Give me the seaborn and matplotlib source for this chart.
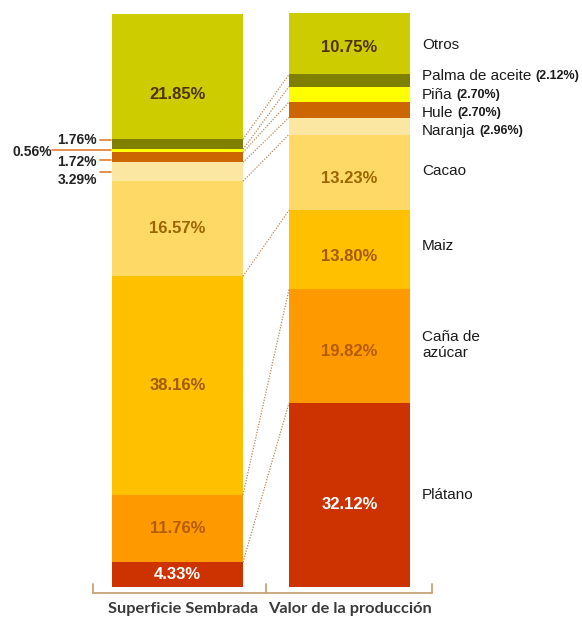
import matplotlib
matplotlib.use('Agg')
import matplotlib.pyplot as plt
import seaborn as sns
import numpy as np

sns.set_theme(style='white')
plt.rcParams['font.family'] = ['Liberation Sans', 'DejaVu Sans']

# ---------------- data ----------------
categories = ['Plátano', 'Caña de azúcar', 'Maiz', 'Cacao', 'Naranja',
              'Hule', 'Piña', 'Palma de aceite', 'Otros']
name_labels = ['Plátano', 'Caña de\nazúcar', 'Maiz', 'Cacao', 'Naranja',
               'Hule', 'Piña', 'Palma de aceite', 'Otros']
superficie = [4.33, 11.76, 38.16, 16.57, 3.29, 1.72, 0.56, 1.76, 21.85]
valor = [32.12, 19.82, 13.80, 13.23, 2.96, 2.70, 2.70, 2.12, 10.75]
bar_names = ['Superficie Sembrada', 'Valor de la producción']

# ---------------- style ----------------
colors = ['#CC3300', '#FF9900', '#FFC000', '#FFD966', '#FCE7A2',
          '#CC6600', '#FFFF00', '#7F7F00', '#CCCC00']
text_colors = ['white', '#B35C00', '#A45A00', '#9A6500', None, None, None, None, '#4D3300']
inside_left = [True, True, True, True, False, False, False, False, True]
inside_right = [True, True, True, True, False, False, False, False, True]

W, H = 582, 618
PX_PER = 5.73
BASE = 587


def py(p):
    """pixel row -> data value"""
    return (BASE - p) / PX_PER


fig = plt.figure(figsize=(W / 100, H / 100), dpi=100)
ax = fig.add_axes([0, 0, 1, 1])
ax.set_xlim(0, W)
ax.set_ylim(py(H), py(0))
ax.axis('off')

lx, lw = 177.5, 131
rx, rw = 349.5, 121

sup = np.array(superficie)
val = np.array(valor)
sup_bot = np.concatenate([[0], np.cumsum(sup)[:-1]])
val_bot = np.concatenate([[0], np.cumsum(val)[:-1]])

ax.bar([lx] * len(sup), sup, bottom=sup_bot, width=lw, color=colors, linewidth=0)
ax.bar([rx] * len(val), val, bottom=val_bot, width=rw, color=colors, linewidth=0)

# dotted connectors between boundaries
for i in range(1, len(sup)):
    ax.plot([lx + lw / 2, rx - rw / 2], [sup_bot[i], val_bot[i]],
            ls=(0, (1, 1.2)), color='#B8895A', lw=0.9)

# in-bar labels
left_off = [0, 0, 0, 0, 0, 0, 0, 0, -3.2]
right_off = [-1.7, -1.0, -1.1, -1.0, 0, 0, 0, 0, -0.6]
for i, c in enumerate(categories):
    if inside_left[i]:
        ax.text(lx, sup_bot[i] + sup[i] / 2 + left_off[i], f'{sup[i]:.2f}%',
                ha='center', va='center', fontsize=12, fontweight='bold',
                color=text_colors[i])
    if inside_right[i]:
        ax.text(rx, val_bot[i] + val[i] / 2 + right_off[i], f'{val[i]:.2f}%',
                ha='center', va='center', fontsize=12, fontweight='bold',
                color=text_colors[i])

# left small annotations (Naranja, Hule, Piña, Palma)
ann_color = '#E07B30'
left_ann = {7: (97, 140, 140, 100), 6: (52, 152, 150, 52), 5: (97, 162, 160, 100), 4: (97, 180, 172, 100)}
for i, (tx, ty, ly, lx0) in left_ann.items():
    ax.text(tx, py(ty), f'{sup[i]:.2f}%', ha='right', va='center',
            fontsize=10, fontweight='bold', color='#222222')
    ax.plot([lx0, 111], [py(ly), py(ly)], color=ann_color, lw=1.2)

# right category labels
name_y = {0: 495, 1: 345, 2: 246, 3: 171, 4: 131, 5: 113, 6: 95, 7: 76, 8: 45}
fig.canvas.draw()
renderer = fig.canvas.get_renderer()
inv = ax.transData.inverted()
for i, c in enumerate(categories):
    t = ax.text(422, py(name_y[i]), name_labels[i], ha='left', va='center',
                fontsize=11, color='#1a1a1a', linespacing=1.15)
    if not inside_right[i]:
        bb = t.get_window_extent(renderer=renderer)
        x_end = inv.transform((bb.x1, 0))[0]
        ax.text(x_end + 4, py(name_y[i]), f'({val[i]:.2f}%)', ha='left', va='center',
                fontsize=9, fontweight='bold', color='#1a1a1a')

# bottom bracket
bc = '#C9A375'
yb, yt = py(593), py(584)
ax.plot([93, 432], [yb, yb], color=bc, lw=1.3)
for x in (93, 266, 432):
    ax.plot([x, x], [yb, yt], color=bc, lw=1.3)

for x, name in zip([183, 350], bar_names):
    ax.text(x, py(609), name, ha='center', va='center', fontsize=11.8,
            fontweight='bold', color='#3a3a3a', family=['Lato', 'DejaVu Sans'])

fig.savefig('out.png', dpi=100)
